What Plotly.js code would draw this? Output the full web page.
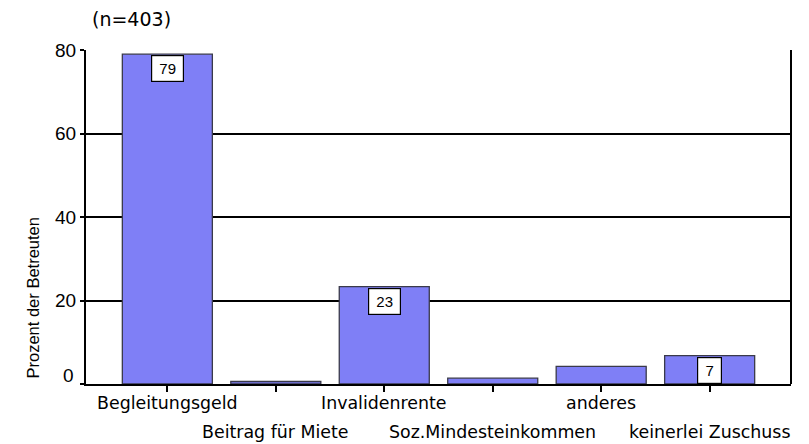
<!DOCTYPE html>
<html>
<head>
<meta charset="utf-8">
<script src="https://cdn.plot.ly/plotly-3.0.1.min.js"></script>
<style>html,body{margin:0;padding:0;background:#fff;}#chart{width:809px;height:444px;}</style>
</head>
<body>
<div id="chart"></div>
<script>
const categories = ["Begleitungsgeld", "Beitrag für Miete", "Invalidenrente", "Soz.Mindesteinkommen", "anderes", "keinerlei Zuschuss"];
const values = [79, 0.6, 23.3, 1.4, 4.2, 6.8];
const labelValues = [79, null, 23, null, null, 7];
const yTicks = [0, 20, 40, 60, 80];

const xIdx = categories.map((c, i) => i);
const SANS = "Liberation Sans, Arial, sans-serif";
const WIDE = "DejaVu Sans, Verdana, sans-serif";

const trace = {
  type: "bar",
  x: xIdx,
  y: values,
  width: 0.83,
  marker: { color: "#7f7ff6", line: { color: "#3a3a4a", width: 1.3 } },
  hoverinfo: "none"
};

const annotations = [];
labelValues.forEach((v, i) => {
  if (v === null) return;
  const s = String(v);
  annotations.push({
    x: i, y: values[i], xref: "x", yref: "y",
    text: s, showarrow: false,
    yanchor: "top", yshift: -1,
    width: s.length === 1 ? 17 : 25, height: 19,
    bgcolor: "#ffffff", bordercolor: "#000000", borderwidth: 1.2, borderpad: 3,
    font: { family: SANS, size: 15, color: "#000" }
  });
});
categories.forEach((c, i) => {
  annotations.push({
    x: i, y: 0, xref: "x", yref: "paper",
    text: c, showarrow: false, borderpad: 0,
    yanchor: "top", yshift: (i % 2 === 0) ? -8 : -37,
    font: { family: WIDE, size: 17.4, color: "#000" }
  });
});
// y-axis title
annotations.push({
  x: 0, y: 0, xref: "paper", yref: "paper",
  text: "Prozent der Betreuten", showarrow: false, textangle: -90,
  xanchor: "center", yanchor: "bottom", xshift: -54, yshift: 3,
  font: { family: SANS, size: 16.5, color: "#000" }
});
// the "0" tick label sits slightly raised in the reference
annotations.push({
  x: 0, y: yTicks[0], xref: "paper", yref: "y",
  text: String(yTicks[0]), showarrow: false,
  xanchor: "right", yanchor: "middle", xshift: -10, yshift: 9,
  font: { family: SANS, size: 19, color: "#000" }
});

const layout = {
  width: 809, height: 444,
  margin: { l: 86, r: 18, t: 50, b: 60 },
  paper_bgcolor: "#fff", plot_bgcolor: "#fff",
  showlegend: false,
  title: { text: "(n=403)", x: 0, xref: "paper", xanchor: "left", y: 0.972, yanchor: "top", pad: { l: 6 },
           font: { family: WIDE, size: 19, color: "#000" } },
  xaxis: {
    range: [-0.75, 5.75], tickvals: xIdx, showticklabels: false,
    ticks: "outside", ticklen: 6, tickwidth: 2, tickcolor: "#000",
    showgrid: false, zeroline: false,
    showline: true, linecolor: "#000", linewidth: 2, mirror: false,
    fixedrange: true
  },
  yaxis: {
    range: [0, 80], tickvals: yTicks,
    ticktext: yTicks.map(v => v === 0 ? "" : String(v)),
    ticks: "outside", ticklen: 4, tickwidth: 2, tickcolor: "#000",
    showgrid: true, gridcolor: "#000", gridwidth: 2,
    zeroline: false, showline: true, linecolor: "#000", linewidth: 2,
    tickfont: { family: SANS, size: 19, color: "#000" },
    fixedrange: true
  },
  shapes: [
    { type: "line", xref: "paper", yref: "paper", x0: 1, x1: 1, y0: 0, y1: 1, line: { color: "#000", width: 2 } }
  ],
  annotations: annotations
};

Plotly.newPlot("chart", [trace], layout, { displayModeBar: false, staticPlot: true });
</script>
</body>
</html>
